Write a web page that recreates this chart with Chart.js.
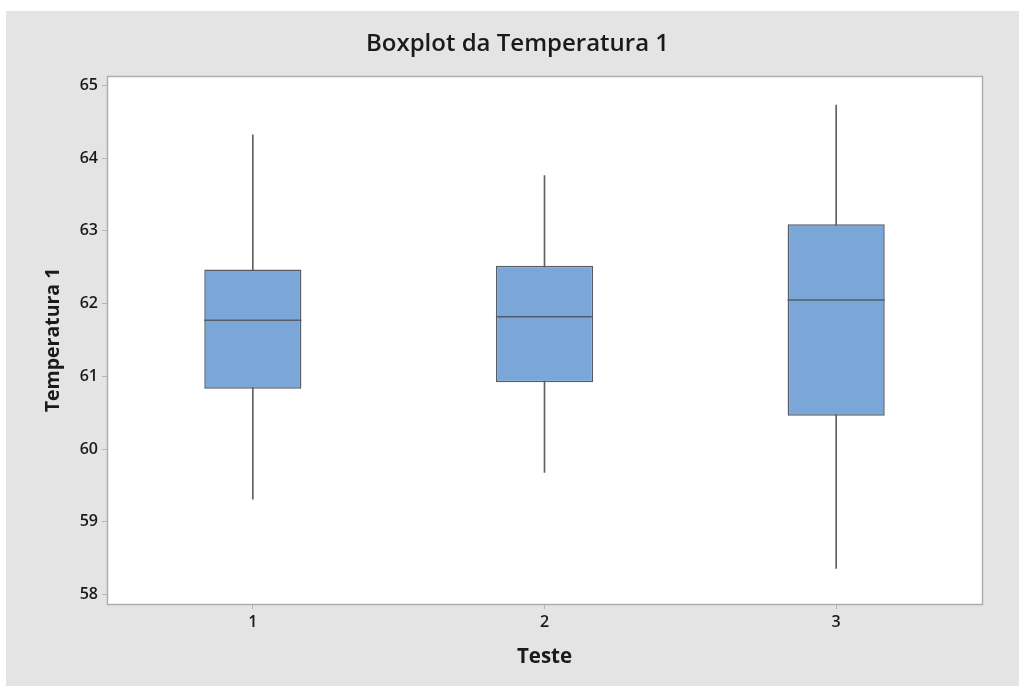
<!DOCTYPE html>
<html>
<head>
<meta charset="utf-8">
<script src="https://cdn.jsdelivr.net/npm/chart.js@4.4.1/dist/chart.umd.min.js"></script>
<style>
  html, body { margin: 0; padding: 0; background: #ffffff; }
  #panel { position: absolute; left: 6px; top: 11px; width: 1013px; height: 675px; background: #e4e4e4; }
  canvas { display: block; }
</style>
</head>
<body>
<div id="panel"><canvas id="c" width="1013" height="675"></canvas></div>
<script>
// Data
const categories = ['1', '2', '3'];
const whiskerLow  = [59.31, 59.68, 58.36];
const q1          = [60.83, 60.92, 60.46];
const medians     = [61.77, 61.82, 62.05];
const q3          = [62.47, 62.52, 63.09];
const whiskerHigh = [64.32, 63.76, 64.73];
const yTicks      = [58, 59, 60, 61, 62, 63, 64, 65];

const whiskerData = categories.map((c, i) => [whiskerLow[i], whiskerHigh[i]]);
const boxData = categories.map((c, i) => [q1[i], q3[i]]);

const boxPlugin = {
  id: 'boxExtras',
  beforeDatasetsDraw(chart) {
    const {ctx, chartArea: a} = chart;
    ctx.save();
    ctx.fillStyle = '#ffffff';
    ctx.fillRect(a.left, a.top, a.right - a.left, a.bottom - a.top);
    ctx.restore();
  },
  afterDatasetsDraw(chart) {
    const {ctx, chartArea: a} = chart;
    const y = chart.scales.y;
    const meta = chart.getDatasetMeta(1);
    ctx.save();
    ctx.strokeStyle = '#565d66';
    ctx.lineWidth = 1.5;
    meta.data.forEach((bar, i) => {
      const py = y.getPixelForValue(medians[i]);
      const half = bar.width / 2;
      ctx.beginPath();
      ctx.moveTo(bar.x - half, py);
      ctx.lineTo(bar.x + half, py);
      ctx.stroke();
    });
    ctx.strokeStyle = '#aeaeae';
    ctx.lineWidth = 1.5;
    ctx.strokeRect(Math.round(a.left) + 0.5, Math.round(a.top) + 0.5,
                   Math.round(a.right - a.left), Math.round(a.bottom - a.top));
    ctx.restore();
  }
};

const tickFont = { family: 'Open Sans', size: 16, weight: '600' };
const axisGrid = { display: true, drawOnChartArea: false, drawTicks: true, tickLength: 5, color: '#b4b4b4', tickColor: '#b4b4b4', offset: false };

new Chart(document.getElementById('c'), {
  type: 'bar',
  data: {
    labels: categories,
    datasets: [
      {
        label: 'whisker',
        data: whiskerData,
        backgroundColor: '#606060',
        borderWidth: 0,
        barThickness: 1,
        grouped: false,
        order: 2
      },
      {
        label: 'box',
        data: boxData,
        backgroundColor: '#7ba6d8',
        borderColor: '#565d66',
        borderWidth: 1.5,
        borderSkipped: false,
        barPercentage: 0.333,
        categoryPercentage: 1,
        grouped: false,
        order: 1
      }
    ]
  },
  options: {
    responsive: false,
    devicePixelRatio: 1,
    animation: false,
    layout: { padding: { left: 10, right: 0, top: 0, bottom: 0 } },
    plugins: {
      legend: { display: false },
      tooltip: { enabled: false },
      title: {
        display: true,
        text: 'Boxplot da Temperatura 1',
        color: '#1a1a1a',
        font: { family: 'Open Sans', size: 24, weight: '600', lineHeight: 1.2 },
        padding: { top: 19, bottom: 17.2 }
      }
    },
    scales: {
      x: {
        type: 'category',
        offset: true,
        grid: axisGrid,
        border: { display: false },
        ticks: { color: '#1a1a1a', padding: 4, font: tickFont },
        title: {
          display: true, text: 'Teste', color: '#1a1a1a',
          font: { family: 'Open Sans', size: 20.5, weight: 'bold', lineHeight: 1.2 },
          padding: { top: 0, bottom: 17 }
        },
        afterFit(s) { s.height = 82; }
      },
      y: {
        type: 'linear',
        position: 'left',
        min: 57.87,
        max: 65.13,
        grid: axisGrid,
        border: { display: false },
        afterBuildTicks(s) { s.ticks = yTicks.map(v => ({ value: v })); },
        ticks: { color: '#1a1a1a', padding: 4, font: tickFont },
        title: {
          display: true, text: 'Temperatura 1', color: '#1a1a1a',
          font: { family: 'Open Sans', size: 19.5, weight: 'bold', lineHeight: 1.2 },
          padding: { top: 26, bottom: 0 }
        },
        afterFit(s) { s.width = 91; }
      },
      yRight: {
        type: 'linear',
        position: 'right',
        display: true,
        min: 57.87,
        max: 65.13,
        grid: { display: false },
        border: { display: false },
        ticks: { display: false },
        afterFit(s) { s.width = 37; }
      }
    }
  },
  plugins: [boxPlugin]
});
</script>
</body>
</html>
